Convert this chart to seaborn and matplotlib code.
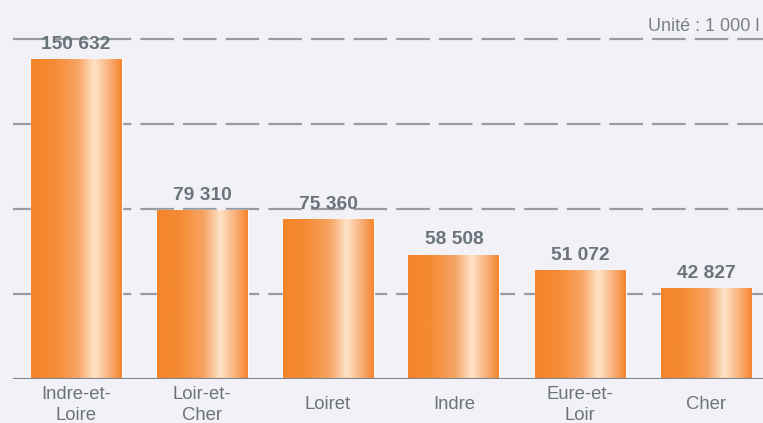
import numpy as np
import pandas as pd
import matplotlib
matplotlib.use("Agg")
import matplotlib.pyplot as plt
from matplotlib.colors import LinearSegmentedColormap
import seaborn as sns

categories = ["Indre-et-\nLoire", "Loir-et-\nCher", "Loiret", "Indre", "Eure-et-\nLoir", "Cher"]
values = [150632, 79310, 75360, 58508, 51072, 42827]
value_labels = ["150 632", "79 310", "75 360", "58 508", "51 072", "42 827"]
grid_values = [40000, 80000, 120000, 160000]
unit_text = "Unité : 1 000 l"

BG = "#f1f1f7"
TXT = "#6b747b"
GRID = "#979ca2"
BASE = "#7d858c"

sns.set_theme(style="white")
plt.rcParams["font.family"] = ["Liberation Sans", "DejaVu Sans"]
plt.rcParams["lines.scale_dashes"] = False

W, H, DPI = 763, 423, 100
fig = plt.figure(figsize=(W / DPI, H / DPI), dpi=DPI, facecolor=BG)
ax = fig.add_axes([13 / W, (H - 379) / H, 750 / W, 340 / H])
ax.set_facecolor(BG)

df = pd.DataFrame({"cat": categories, "val": values})
sns.barplot(data=df, x="cat", y="val", ax=ax, width=91 / 126, color="#f5852c",
            saturation=1, zorder=3)

ax.set_xlim(-0.5, -0.5 + 750 / 126)
ax.set_ylim(0, 160000)

# gradient overlay for each bar
cmap = LinearSegmentedColormap.from_list(
    "g", [(0.0, "#f5852b"), (0.25, "#f58a33"), (0.52, "#f8a565"),
          (0.70, "#fee3c9"), (0.86, "#f9b17b"), (1.0, "#f5852d")])
grad = np.linspace(0, 1, 256).reshape(1, -1)
for p in ax.patches:
    x0, w, h = p.get_x(), p.get_width(), p.get_height()
    im = ax.imshow(grad, cmap=cmap, aspect="auto", extent=[x0, x0 + w, 0, h],
                   zorder=3.5, interpolation="bicubic")
    im.set_clip_path(p)
ax.set_xlim(-0.5, -0.5 + 750 / 126)
ax.set_ylim(0, 160000)

# gridlines
for gv in grid_values:
    ax.axhline(gv, color=GRID, lw=1.6, linestyle=(0.4, (24.2, 6.5)), zorder=1,
               clip_on=False)
ax.axhline(0, color=BASE, lw=1.5, zorder=4)

# value labels
for p, lab in zip(ax.patches, value_labels):
    ax.annotate(lab, (p.get_x() + p.get_width() / 2, p.get_height()),
                xytext=(0, 4.5), textcoords="offset points", ha="center",
                va="bottom", fontsize=13.8, fontweight="bold", color=TXT,
                zorder=6)

for s in ax.spines.values():
    s.set_visible(False)
ax.set_yticks([])
ax.set_xlabel("")
ax.set_ylabel("")
ax.tick_params(axis="x", length=0, pad=18.5)
for t in ax.get_xticklabels():
    t.set_fontsize(13.3)
    t.set_color(TXT)
    t.set_va("center")
    t.set_linespacing(1.3)
    t.set_multialignment("center")

fig.text(648 / W, 1 - 31 / H, unit_text, fontsize=13, color="#7a8288",
         ha="left", va="baseline")

fig.savefig("out.png", dpi=DPI, facecolor=BG)
